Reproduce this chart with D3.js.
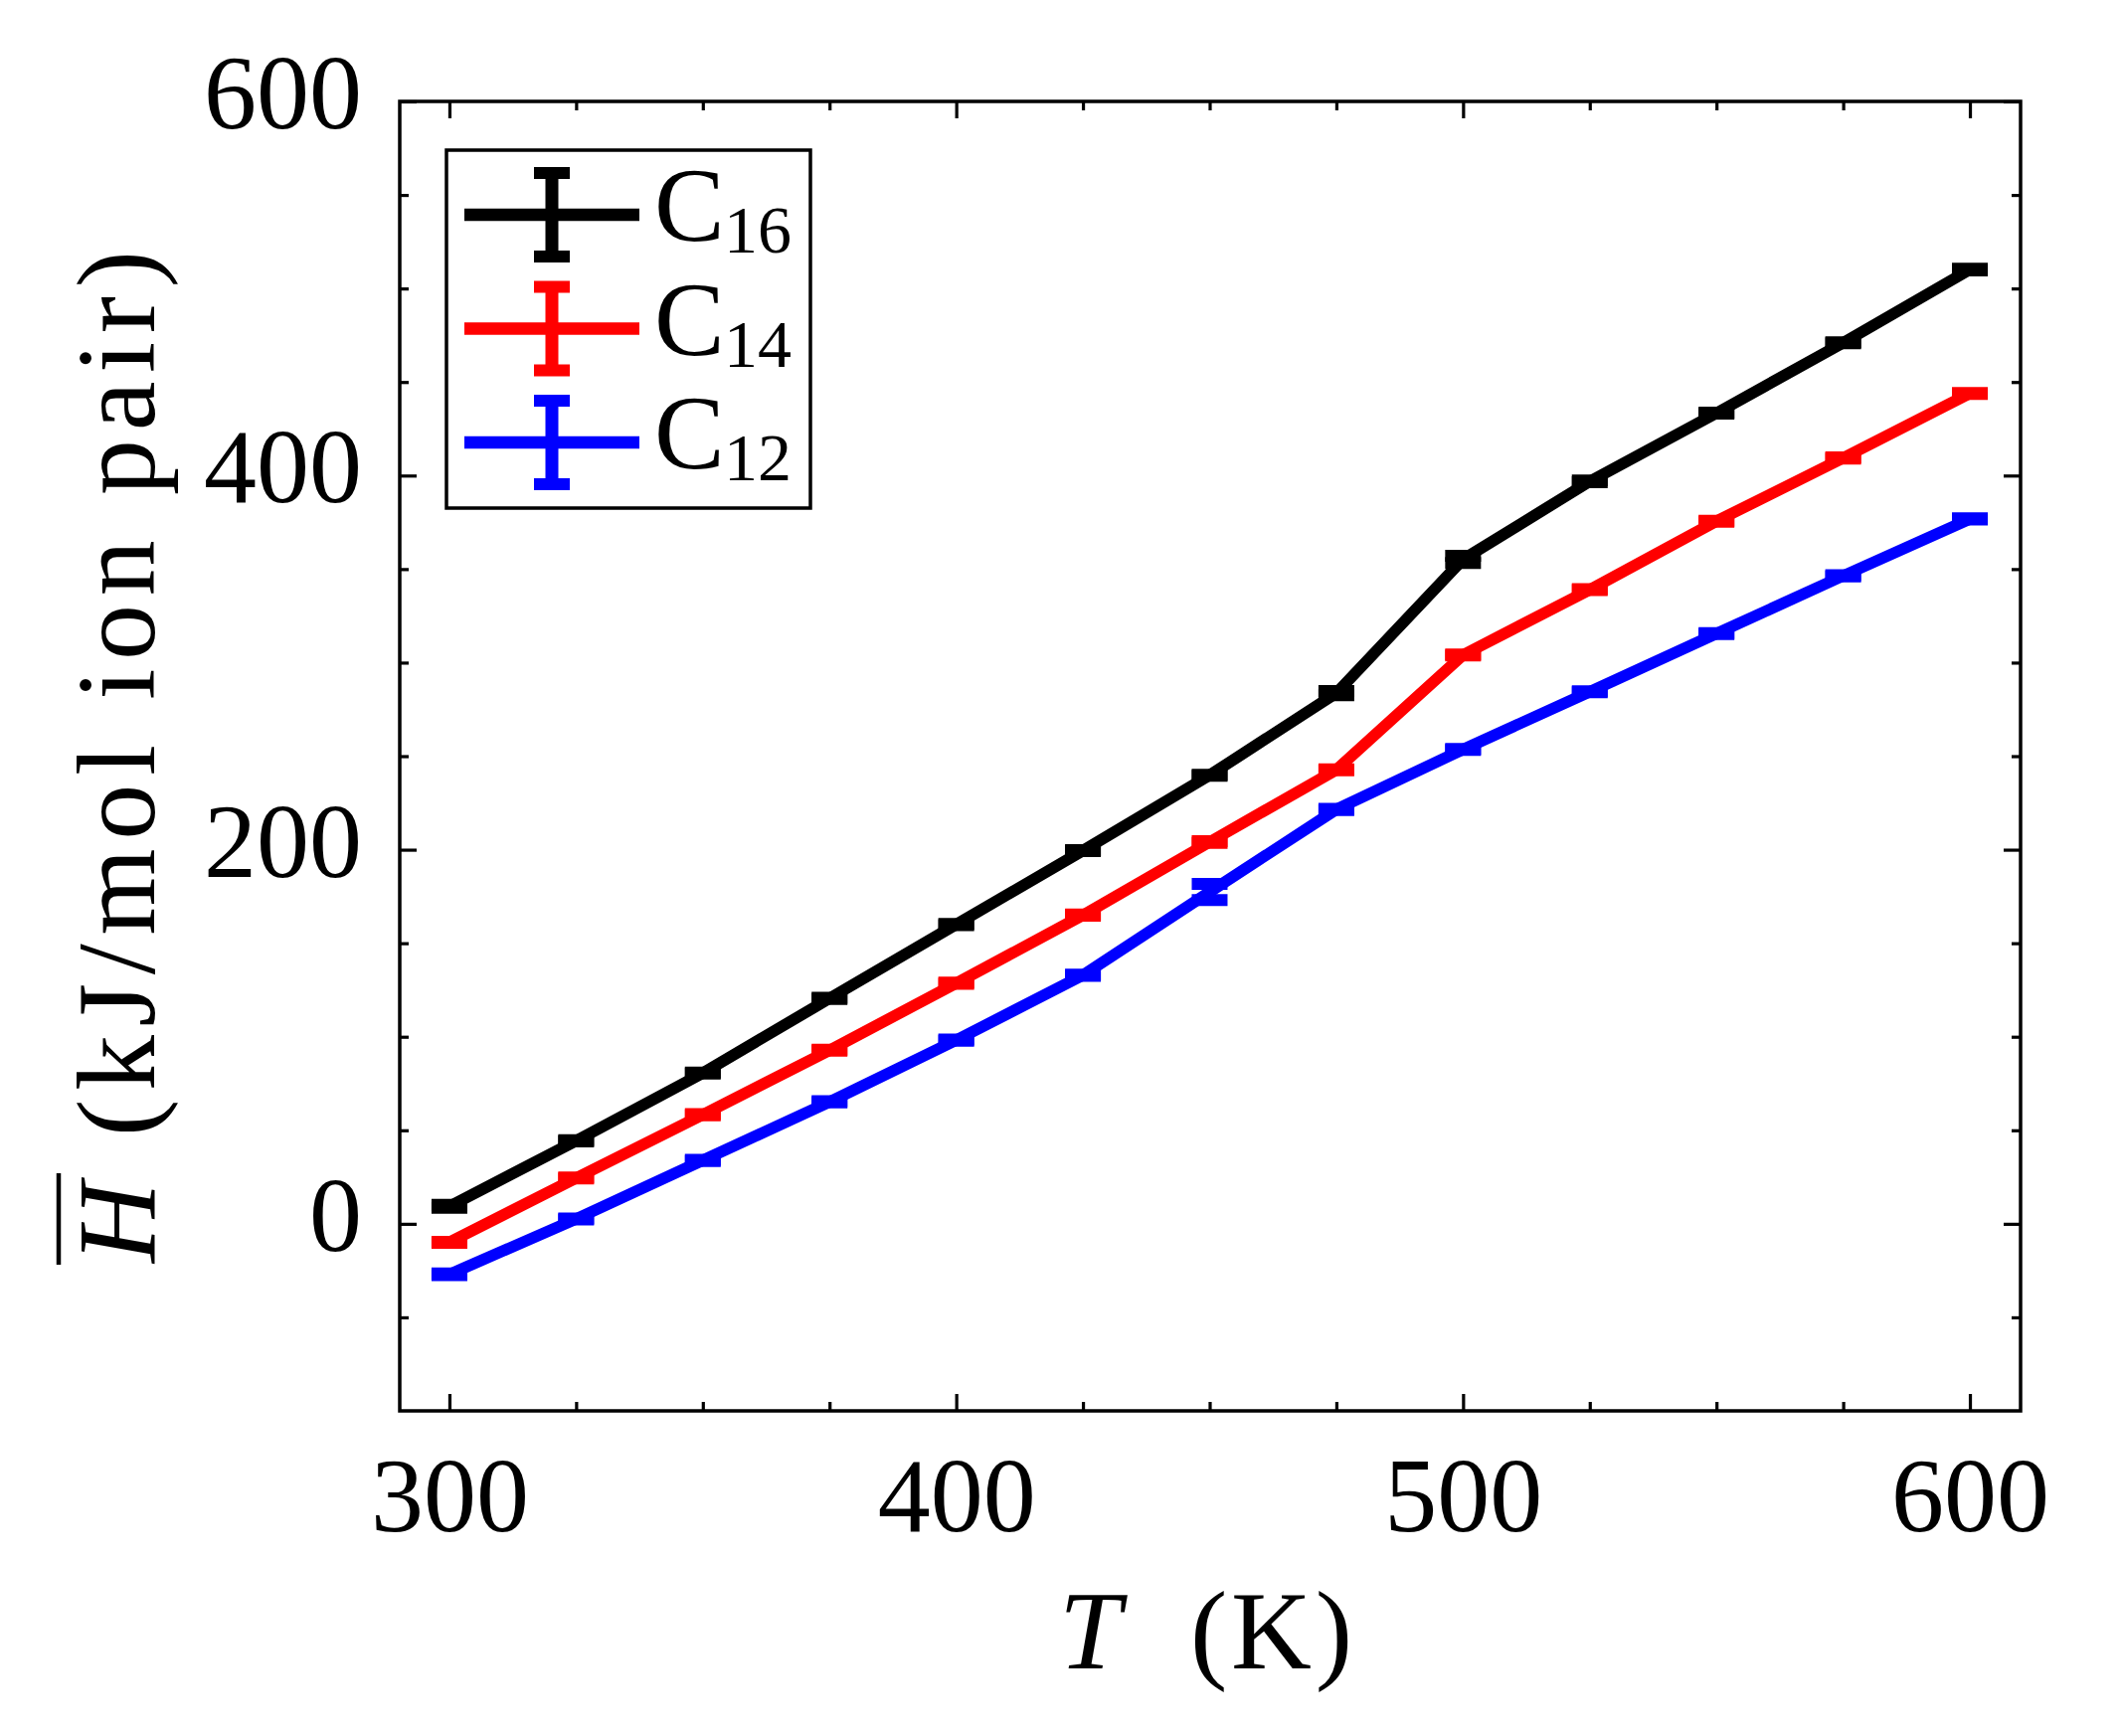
<!DOCTYPE html>
<html>
<head>
<meta charset="utf-8">
<script src="https://cdn.jsdelivr.net/npm/d3@7"></script>
<style>
  body { margin: 0; background: #fff; }
  text { font-family: "Liberation Serif", "DejaVu Serif", serif; fill: #000; }
</style>
</head>
<body>
<svg id="chart"></svg>
<script>
// temperatures (K)
const temps = [300, 325, 350, 375, 400, 425, 450, 475, 500, 525, 550, 575, 600];

// mean enthalpy, kJ/mol ion pair
const c16 = [9.3, 44.4, 80.6, 120.5, 160, 199.5, 239.8, 283.7, 355.2, 396.9, 433.4, 471.0, 510.1];
const c14 = [-9.9, 24.5, 58.3, 92.8, 128.6, 165, 204.1, 242.7, 304.1, 339, 375.6, 409.4, 443.9];
const c12 = [-27, 2.6, 33.9, 65.2, 98.2, 132.9, 177.4, 221.5, 253.6, 284.4, 315.5, 346.4, 376.8];

// error bars (same units)
const c16err = [0.8, 0.3, 0.3, 0.3, 0.3, 0.3, 0.3, 1.1, 1.9, 0.5, 0.3, 0.3, 0.5];
const c14err = [0.3, 0.3, 0.3, 0.3, 0.3, 0.3, 0.5, 0.3, 0.3, 0.3, 0.3, 0.3, 0.3];
const c12err = [0.5, 0.3, 0.3, 0.3, 0.3, 0.3, 4.3, 0.3, 0.3, 0.3, 0.3, 0.3, 0.3];

const seriesNames = ["16", "14", "12"];
const seriesColors = ["#000000", "#ff0000", "#0000ff"];

const xMajor = [300, 400, 500, 600];
const xMinor = [325, 350, 375, 425, 450, 475, 525, 550, 575];
const yMajor = [0, 200, 400, 600];
const yMinor = [-50, 50, 100, 150, 250, 300, 350, 450, 500, 550];

const W = 2133, H = 1746;
const mLeft = 402, mRight = 2032, mTop = 102, mBottom = 1419;

const svg = d3.select("#chart").attr("width", W).attr("height", H);

const x = d3.scaleLinear().domain([290.2, 610]).range([mLeft, mRight]);
const y = d3.scaleLinear().domain([-100, 600]).range([mBottom, mTop]);

const series = [
	{name: seriesNames[0], color: seriesColors[0], vals: c16, err: c16err},
	{name: seriesNames[1], color: seriesColors[1], vals: c14, err: c14err},
	{name: seriesNames[2], color: seriesColors[2], vals: c12, err: c12err}
];

/* *** axes *** */
function styleAxis(g){
	g.select(".domain").remove();
	g.selectAll(".tick line").attr("stroke", "#000").attr("stroke-width", 3.2);
	g.selectAll("text").attr("font-size", 106).attr("fill", "#000")
		.attr("font-family", '"Liberation Serif", serif');
}

svg.append("g").attr("transform", `translate(0,${mBottom})`)
	.call(d3.axisBottom(x).tickValues(xMajor).tickSize(-17).tickPadding(46).tickFormat(d3.format("d")))
	.call(styleAxis);
svg.append("g").attr("transform", `translate(0,${mBottom})`)
	.call(d3.axisBottom(x).tickValues(xMinor).tickSize(-9).tickFormat(""))
	.call(styleAxis);
svg.append("g").attr("transform", `translate(0,${mTop})`)
	.call(d3.axisTop(x).tickValues(xMajor).tickSize(-17).tickFormat(""))
	.call(styleAxis);
svg.append("g").attr("transform", `translate(0,${mTop})`)
	.call(d3.axisTop(x).tickValues(xMinor).tickSize(-9).tickFormat(""))
	.call(styleAxis);

let yl = svg.append("g").attr("transform", `translate(${mLeft},0)`)
	.call(d3.axisLeft(y).tickValues(yMajor).tickSize(-17).tickPadding(38).tickFormat(d3.format("d")))
	.call(styleAxis);
yl.selectAll("text").attr("dy", "0.25em");
svg.append("g").attr("transform", `translate(${mLeft},0)`)
	.call(d3.axisLeft(y).tickValues(yMinor).tickSize(-9).tickFormat(""))
	.call(styleAxis);
svg.append("g").attr("transform", `translate(${mRight},0)`)
	.call(d3.axisRight(y).tickValues(yMajor).tickSize(-17).tickFormat(""))
	.call(styleAxis);
svg.append("g").attr("transform", `translate(${mRight},0)`)
	.call(d3.axisRight(y).tickValues(yMinor).tickSize(-9).tickFormat(""))
	.call(styleAxis);

// frame
svg.append("rect")
	.attr("x", mLeft).attr("y", mTop)
	.attr("width", mRight - mLeft).attr("height", mBottom - mTop)
	.attr("fill", "none").attr("stroke", "#000").attr("stroke-width", 3.5);

/* *** lines + error bars *** */
const line = d3.line().x((d,i)=>x(temps[i])).y(d=>y(d));

series.forEach(s=>{
	svg.append("path")
		.datum(s.vals)
		.attr("d", line)
		.attr("fill", "none")
		.attr("stroke", s.color)
		.attr("stroke-width", 11.5)
		.attr("stroke-linejoin", "miter");

	let eb = svg.append("g").selectAll("g")
		.data(s.vals.map((v,i)=>({t: temps[i], v: v, e: s.err[i]})))
		.enter()
		.append("g")
		.attr("stroke", s.color)
		.attr("stroke-width", 12);

	eb.append("line")
		.attr("x1", d=>x(d.t)).attr("x2", d=>x(d.t))
		.attr("y1", d=>y(d.v + d.e)).attr("y2", d=>y(d.v - d.e));
	eb.append("line")
		.attr("x1", d=>x(d.t) - 18).attr("x2", d=>x(d.t) + 18)
		.attr("y1", d=>y(d.v + d.e)).attr("y2", d=>y(d.v + d.e));
	eb.append("line")
		.attr("x1", d=>x(d.t) - 18).attr("x2", d=>x(d.t) + 18)
		.attr("y1", d=>y(d.v - d.e)).attr("y2", d=>y(d.v - d.e));
});

/* *** legend *** */
let legend = svg.append("g").attr("class", "legend");
legend.append("rect")
	.attr("x", 449).attr("y", 151)
	.attr("width", 366).attr("height", 360)
	.attr("fill", "#fff").attr("stroke", "#000").attr("stroke-width", 3.5);

let items = legend.selectAll("g.item")
	.data(series)
	.enter()
	.append("g")
	.attr("class", "item")
	.attr("transform", (d,i)=>`translate(0,${216 + i*114.5})`);

items.append("line")
	.attr("x1", 467).attr("x2", 643).attr("y1", 0).attr("y2", 0)
	.attr("stroke", d=>d.color).attr("stroke-width", 12.7);
items.append("line")
	.attr("x1", 555).attr("x2", 555).attr("y1", -42).attr("y2", 42)
	.attr("stroke", d=>d.color).attr("stroke-width", 13);
items.append("line")
	.attr("x1", 537).attr("x2", 573).attr("y1", -42).attr("y2", -42)
	.attr("stroke", d=>d.color).attr("stroke-width", 12);
items.append("line")
	.attr("x1", 537).attr("x2", 573).attr("y1", 42).attr("y2", 42)
	.attr("stroke", d=>d.color).attr("stroke-width", 12);

let lt = items.append("text")
	.attr("x", 658).attr("y", 26)
	.attr("font-size", 106)
	.text("C");
lt.append("tspan")
	.attr("x", 728).attr("y", 38)
	.attr("font-size", 68)
	.text(d=>d.name);

/* *** axis titles *** */
svg.append("text")
	.attr("x", 1065).attr("y", 1678)
	.attr("font-size", 112).attr("font-style", "italic")
	.text("T");
svg.append("text")
	.attr("x", 1197).attr("y", 1678)
	.attr("font-size", 112)
	.attr("textLength", 163).attr("lengthAdjust", "spacing")
	.text("(K)");

let ylab = svg.append("g").attr("transform", "translate(155,760) rotate(-90)");
ylab.append("text")
	.attr("x", -510).attr("y", 0)
	.attr("font-size", 112).attr("font-style", "italic")
	.text("H");
ylab.append("line")
	.attr("x1", -512).attr("x2", -420)
	.attr("y1", -96).attr("y2", -96)
	.attr("stroke", "#000").attr("stroke-width", 4.5);
ylab.append("text")
	.attr("x", -383).attr("y", 0)
	.attr("font-size", 112)
	.attr("textLength", 891).attr("lengthAdjust", "spacing")
	.text("(kJ/mol ion pair)");
</script>
</body>
</html>
